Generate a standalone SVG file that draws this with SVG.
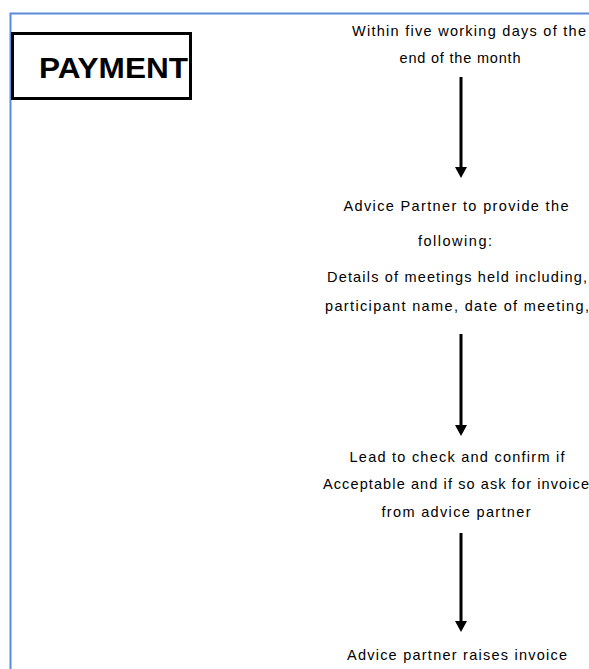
<svg xmlns="http://www.w3.org/2000/svg" width="589" height="669" viewBox="0 0 589 669">
<defs>
<style>
.t{font-family:"Liberation Sans",Arial,sans-serif;font-size:14.5px;fill:#000;text-anchor:middle}
.h{font-family:"Liberation Sans",Arial,sans-serif;font-size:30px;font-weight:bold;fill:#000}
.c{stroke:#000;stroke-width:3;fill:none}
</style>
<marker id="ah" markerUnits="userSpaceOnUse" markerWidth="12" markerHeight="12" viewBox="0 0 12 12" refX="1" refY="6" orient="auto">
<path d="M0,0 L11,6 L0,12 Z" fill="#000"/>
</marker>
</defs>
<rect width="589" height="669" fill="#fff"/>
<g id="frame">
<path d="M10.5,669 V13.5 H589" stroke="#5b8ad8" stroke-width="2" fill="none"/>
</g>
<g id="payment">
<rect x="12.5" y="33.5" width="178" height="65" fill="#fff" stroke="#000" stroke-width="3"/>
<text class="h" x="39" y="78" textLength="149" lengthAdjust="spacingAndGlyphs">PAYMENT</text>
</g>
<g id="step1">
<text class="t" x="469" y="36" textLength="234">Within five working days of the</text>
<text class="t" x="460" y="63" textLength="121">end of the month</text>
</g>
<g id="step2">
<text class="t" x="456" y="211" textLength="225">Advice Partner to provide the</text>
<text class="t" x="455" y="246" textLength="74">following:</text>
<text class="t" x="457" y="282" textLength="260">Details of meetings held including,</text>
<text class="t" x="457" y="311" textLength="264">participant name, date of meeting,</text>
</g>
<g id="step3">
<text class="t" x="457" y="462" textLength="215">Lead to check and confirm if</text>
<text class="t" x="456" y="489" textLength="266">Acceptable and if so ask for invoice</text>
<text class="t" x="456" y="517" textLength="149">from advice partner</text>
</g>
<g id="step4">
<text class="t" x="457" y="660" textLength="220">Advice partner raises invoice</text>
</g>
<g id="connectors">
<line class="c" x1="461" y1="77" x2="461" y2="168" marker-end="url(#ah)"/>
<line class="c" x1="461" y1="334" x2="461" y2="426" marker-end="url(#ah)"/>
<line class="c" x1="461" y1="533" x2="461" y2="622" marker-end="url(#ah)"/>
</g>
</svg>
